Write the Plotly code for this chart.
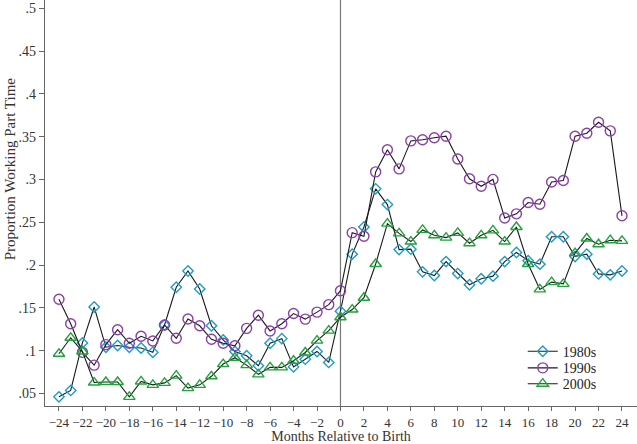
import plotly.graph_objects as go

months = list(range(-24, 25))

s1980 = [0.046, 0.0535, 0.109, 0.151, 0.104, 0.106, 0.104, 0.103, 0.098, 0.130, 0.174, 0.193,
         0.172, 0.129, 0.1125, 0.099, 0.094, 0.0824, 0.1086, 0.114, 0.081, 0.090, 0.099, 0.0862,
         0.146,
         0.2127, 0.2444, 0.289, 0.2706, 0.218, 0.2185, 0.192, 0.1877, 0.204, 0.190, 0.177, 0.184,
         0.187, 0.204, 0.2147, 0.205, 0.201, 0.233, 0.233, 0.210, 0.2127, 0.1896, 0.1885, 0.193]

s1990 = [0.160, 0.1314, 0.098, 0.083, 0.107, 0.1244, 0.1086, 0.1167, 0.1113, 0.130, 0.1144, 0.137,
         0.129, 0.1132, 0.1086, 0.1056, 0.126, 0.1414, 0.123, 0.1314, 0.1433, 0.1368, 0.145, 0.1537,
         0.170,
         0.2378, 0.2336, 0.3088, 0.3347, 0.3123, 0.345, 0.3463, 0.3486, 0.3505, 0.3239, 0.3007, 0.292,
         0.300, 0.2549, 0.2598, 0.273, 0.271, 0.297, 0.2988, 0.3505, 0.354, 0.3667, 0.3567, 0.2575]

s2000 = [0.0963, 0.115, 0.099, 0.0627, 0.0634, 0.0634, 0.046, 0.064, 0.060, 0.0623, 0.0708, 0.0562,
         0.060, 0.070, 0.0843, 0.0917, 0.0831, 0.0723, 0.0804, 0.0804, 0.0882, 0.0978, 0.1117, 0.1233,
         0.139,
         0.148, 0.1618, 0.2012, 0.2483, 0.237, 0.2274, 0.241, 0.2347, 0.232, 0.2375, 0.2255, 0.2347,
         0.2405, 0.2274, 0.2444, 0.2012, 0.1715, 0.180, 0.178, 0.2139, 0.231, 0.2243, 0.229, 0.2282]

series_names = ["1980s", "1990s", "2000s"]
x_ticks = list(range(-24, 25, 2))
y_ticks = [0.05, 0.1, 0.15, 0.2, 0.25, 0.3, 0.35, 0.4, 0.45, 0.5]
y_tick_text = [".05", ".1", ".15", ".2", ".25", ".3", ".35", ".4", ".45", ".5"]
x_title = "Months Relative to Birth"
y_title = "Proportion Working Part Time"

FONT = "Liberation Serif"
styles = [
    dict(symbol="diamond-open", size=8, color="#1f9cc6"),
    dict(symbol="circle-open", size=10, color="#8c3fab"),
    dict(symbol="triangle-up-open", size=10, color="#1fa33a"),
]
legend_ids = ["legend", "legend2", "legend3"]
legend_y = [0.134, 0.093, 0.054]

fig = go.Figure()
for name, vals, st, lg in zip(series_names, [s1980, s1990, s2000], styles, legend_ids):
    fig.add_trace(go.Scatter(
        x=months, y=vals, name=name, mode="lines+markers", legend=lg,
        line=dict(color="#1a1a1a", width=1.1),
        marker=dict(symbol=st["symbol"], size=st["size"], color=st["color"],
                    line=dict(color=st["color"], width=1.4)),
    ))

fig.add_shape(type="line", xref="x", yref="paper", x0=0, x1=0, y0=0, y1=1,
              line=dict(color="#777777", width=1.2), layer="below")

fig.add_annotation(text=y_title, xref="paper", yref="paper", x=-0.0591, y=0.583,
                   textangle=-90, showarrow=False, xanchor="center", yanchor="middle",
                   font=dict(family=FONT, size=15, color="#333333"))

legend_common = dict(x=0.807, xanchor="left", yanchor="middle",
                     bgcolor="rgba(0,0,0,0)", font=dict(family=FONT, size=14, color="#222222"),
                     itemwidth=30)

fig.update_layout(
    width=637, height=444,
    margin=dict(l=45, r=0, t=0, b=34),
    paper_bgcolor="white", plot_bgcolor="white",
    font=dict(family=FONT, size=14, color="#333333"),
    showlegend=True,
    legend=dict(y=legend_y[0], **legend_common),
    legend2=dict(y=legend_y[1], **legend_common),
    legend3=dict(y=legend_y[2], **legend_common),
    xaxis=dict(range=[-25.19, 25.28], tickmode="array", tickvals=x_ticks, tickangle=0,
               showgrid=False, zeroline=False, showline=True, linecolor="#666666", linewidth=1.2,
               ticks="outside", ticklen=4, tickcolor="#666666",
               tickfont=dict(family=FONT, size=13, color="#333333"),
               title=dict(text=x_title, standoff=4,
                          font=dict(family=FONT, size=14, color="#333333"))),
    yaxis=dict(range=[0.0353, 0.5096], tickmode="array", tickvals=y_ticks, ticktext=y_tick_text,
               showgrid=False, zeroline=False, showline=True, linecolor="#666666", linewidth=1.2,
               ticks="outside", ticklen=5, tickcolor="#666666",
               tickfont=dict(family=FONT, size=14, color="#333333")),
)

fig.write_html("out.html", config={"displayModeBar": False},
               post_script="document.body.style.margin='0';")
